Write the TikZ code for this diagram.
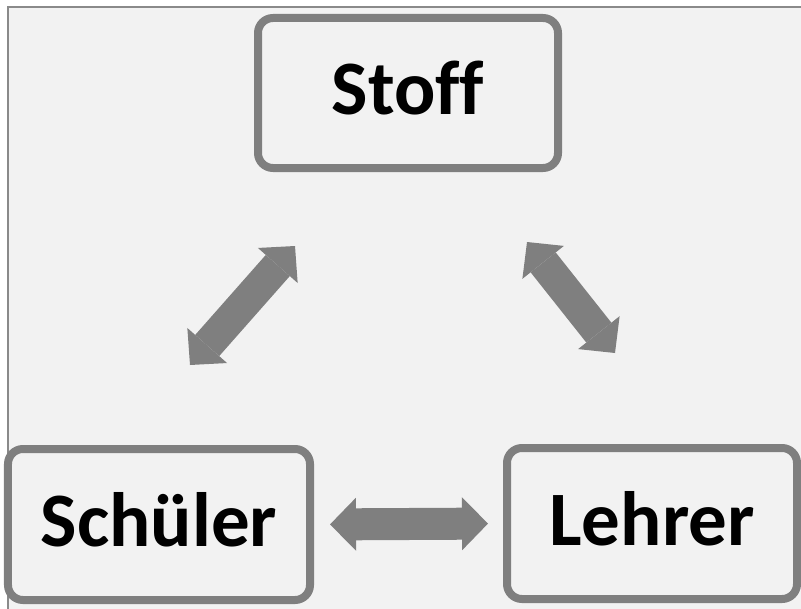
\documentclass[tikz,border=0pt]{standalone}
\usepackage{fontspec}
\setmainfont{Carlito}[Ligatures=NoCommon]
\usetikzlibrary{arrows.meta}
\definecolor{boxgray}{HTML}{7F7F7F}
\definecolor{bggray}{HTML}{F2F2F2}
\definecolor{framegray}{HTML}{8A8A8A}
\tikzstyle{triad}=[
  x=1bp,y=-1bp
]
\tikzstyle{box}=[
  draw=boxgray,line width=8bp,rounded corners=15bp,fill=bggray,
  font=\fontsize{77bp}{90bp}\selectfont\bfseries,text height=44bp,text depth=0bp
]
\tikzstyle{dblarrow}=[
  draw=boxgray,line width=32bp,>={Triangle[length=26bp,width=53bp,line width=0pt]},<->
]

\begin{document}
\begin{tikzpicture}[triad]
    \useasboundingbox (0,0) rectangle (801,609);
    \draw [framegray,line width=1.5bp,fill=bggray] (8,7) rectangle (830,640);
    \node (stoff) at (408,93) [box,minimum width=300bp,minimum height=150bp] {Stoff};
    \node (schueler) at (159,524.5) [box,minimum width=302bp,minimum height=151bp] {Schüler};
    \node (lehrer) at (652,523.5) [box,minimum width=290bp,minimum height=151bp] {Lehrer};
    \coordinate (ss1) at (190,365);
    \coordinate (ss2) at (295,246);
    \coordinate (ls1) at (527,242);
    \coordinate (ls2) at (615,353);
    \draw [dblarrow] (ss1) -- (ss2);
    \draw [dblarrow] (ls1) -- (ls2);
    \draw [dblarrow,shorten <=16bp,shorten >=15bp] (schueler.east) -- (lehrer.west);
\end{tikzpicture}
\end{document}
